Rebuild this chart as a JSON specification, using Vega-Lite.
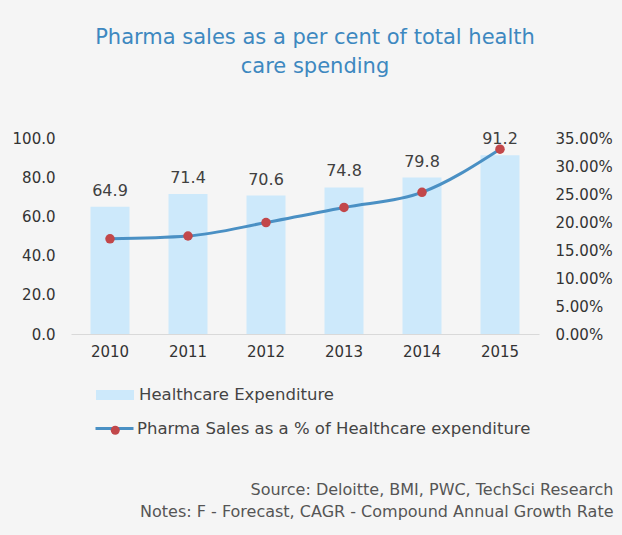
{
  "$schema": "https://vega.github.io/schema/vega-lite/v6.json",
  "width": 468,
  "height": 196,
  "autosize": {"type": "none"},
  "padding": {"left": 71, "top": 138, "right": 83, "bottom": 201},
  "background": "#f5f5f5",
  "config": {"font": "DejaVu Sans", "view": {"stroke": null}, "axis": {"grid": false}},
  "title": {
    "text": ["Pharma sales as a per cent of total health", "care spending"],
    "fontSize": 21,
    "font": "DejaVu Sans",
    "fontWeight": "normal",
    "color": "#3d88c0",
    "anchor": "middle",
    "offset": 54,
    "lineHeight": 29,
    "dx": 10
  },
  "data": {
    "values": [
      {"year": "2010", "exp": 64.9, "pct": 0.170},
      {"year": "2011", "exp": 71.4, "pct": 0.175},
      {"year": "2012", "exp": 70.6, "pct": 0.199},
      {"year": "2013", "exp": 74.8, "pct": 0.226},
      {"year": "2014", "exp": 79.8, "pct": 0.253},
      {"year": "2015", "exp": 91.2, "pct": 0.330}
    ]
  },
  "encoding": {
    "x": {
      "field": "year",
      "type": "ordinal",
      "scale": {"paddingInner": 0.5, "paddingOuter": 0.25},
      "axis": {
        "labelAngle": 0,
        "labelFontSize": 15,
        "labelColor": "#333333",
        "labelPadding": 10,
        "ticks": false,
        "domainColor": "#d9d9d9",
        "domainWidth": 1,
        "title": ["Source: Deloitte, BMI, PWC, TechSci Research", "Notes: F - Forecast, CAGR - Compound Annual Growth Rate"],
        "titleX": 542,
        "titleY": 160,
        "titleAlign": "right",
        "titleAnchor": "end",
        "titleFontSize": 16,
        "titleFontWeight": "normal",
        "titleColor": "#555555",
        "titleLineHeight": 22,
        "titleBaseline": "alphabetic"
      }
    }
  },
  "layer": [
    {
      "encoding": {
        "y": {
          "field": "exp",
          "type": "quantitative",
          "scale": {"domain": [0, 100]},
          "axis": {
            "values": [0, 20, 40, 60, 80, 100],
            "format": ".1f",
            "title": null,
            "domain": false,
            "ticks": false,
            "labelPadding": 16,
            "labelFontSize": 15,
            "labelColor": "#333333"
          }
        }
      },
      "layer": [
        {
          "mark": {"type": "bar"},
          "encoding": {
            "fill": {
              "datum": "Healthcare Expenditure",
              "scale": {"range": ["#cde9fb"]},
              "legend": {
                "orient": "none",
                "legendX": 25,
                "legendY": 238,
                "title": null,
                "symbolType": "M-1,-0.26H1V0.26H-1Z",
                "symbolSize": 1444,
                "symbolStrokeWidth": 0,
                "labelFontSize": 16.5,
                "labelLimit": 0,
                "labelColor": "#444444",
                "labelOffset": 5,
                "padding": 0
              }
            }
          }
        },
        {
          "mark": {"type": "text", "baseline": "bottom", "dy": -8, "fontSize": 16, "color": "#404040"},
          "encoding": {"text": {"field": "exp", "type": "quantitative", "format": ".1f"}}
        }
      ]
    },
    {
      "encoding": {
        "y": {
          "field": "pct",
          "type": "quantitative",
          "scale": {"domain": [0, 0.35]},
          "axis": {
            "orient": "right",
            "values": [0, 0.05, 0.1, 0.15, 0.2, 0.25, 0.3, 0.35],
            "format": ".2%",
            "title": null,
            "domain": false,
            "ticks": false,
            "labelPadding": 16,
            "labelFontSize": 15,
            "labelColor": "#333333"
          }
        }
      },
      "layer": [
        {
          "mark": {"type": "line", "strokeWidth": 3, "interpolate": "monotone"},
          "encoding": {
            "stroke": {
              "datum": "Pharma Sales as a % of Healthcare expenditure",
              "scale": {"range": ["#4a90c4"]},
              "legend": {
                "orient": "none",
                "legendX": 23,
                "legendY": 270,
                "title": null,
                "symbolType": "M-1,0H1",
                "symbolSize": 1444,
                "symbolStrokeWidth": 3,
                "labelFontSize": 16.5,
                "labelLimit": 0,
                "labelColor": "#444444",
                "labelOffset": 2,
                "padding": 0
              }
            }
          }
        },
        {
          "mark": {"type": "point", "filled": true, "size": 90, "color": "#c2474a", "opacity": 1},
          "encoding": {
            "shape": {
              "datum": "marker",
              "scale": {"range": ["circle"]},
              "legend": {
                "orient": "none",
                "legendX": 36,
                "legendY": 284,
                "title": null,
                "symbolSize": 80,
                "symbolFillColor": "#c2474a",
                "symbolStrokeWidth": 0,
                "symbolOpacity": 1,
                "labelFontSize": 16.5,
                "labelLimit": 0,
                "labelExpr": "''",
                "labelOffset": 2,
                "padding": 0
              }
            }
          }
        }
      ]
    }
  ],
  "resolve": {"scale": {"y": "independent"}}
}
